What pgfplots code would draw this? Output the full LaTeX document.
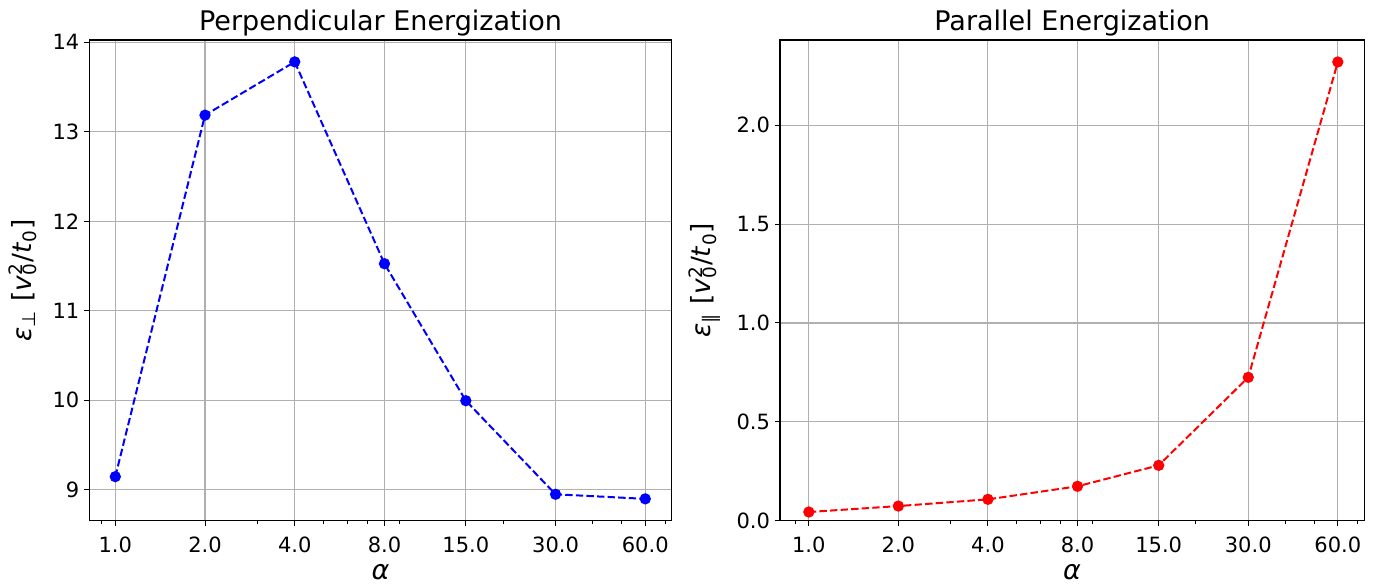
\documentclass[border=0pt]{standalone}
\usepackage{fontspec}
\setmainfont{DejaVu Sans}
\usepackage{pgfplots}
\pgfplotsset{compat=1.18}
\definecolor{gridgray}{HTML}{B0B0B0}
\begin{document}
\begin{tikzpicture}
\path[use as bounding box] (-44.65pt,-32.65pt) rectangle (646.35pt,260.35pt);
\begin{axis}[
  at={(0pt,0pt)}, anchor=south west,
  scale only axis,
  width=291.2pt, height=240.35pt,
  xmode=log,
  xmin=0.818, xmax=73.6,
  ymin=8.656, ymax=14.024,
  xtick={1,2,4,8,15,30,60},
  xticklabels={1.0,2.0,4.0,8.0,15.0,30.0,60.0},
  minor xtick={0.9,3,5,6,7,9,20,40,50,70},
  ytick={9,10,11,12,13,14},
  yticklabels={9,10,11,12,13,14},
  grid=major,
  major grid style={gridgray, line width=0.55pt},
  axis line style={black, line width=0.55pt},
  tick align=outside,
  major tick length=2.6pt,
  minor tick length=1.5pt,
  tick style={black, line width=0.5pt},
  xtick pos=bottom, ytick pos=left,
  ticklabel style={font=\fontsize{10.5}{12}\selectfont},
  xticklabel style={anchor=base, yshift=-13.5pt},
  yticklabel style={anchor=east, inner sep=0pt, xshift=-2.2pt},
  title style={font=\fontsize{13.5}{16}\selectfont, at={(0.5,1)}, anchor=base, yshift=-1pt},
  xlabel style={font=\fontsize{13.5}{16}\selectfont, at={(0.5,0)}, anchor=base, yshift=-29.5pt},
  ylabel style={font=\fontsize{13.2}{15}\selectfont, anchor=center, at={(axis description cs:-0.114,0.5)}},
  title={Perpendicular Energization},
  xlabel={\textit{α}},
  ylabel={\textit{ε}\textsubscript{⊥}\ [\textit{v}\makebox[0pt][l]{\textsuperscript{2}}\textsubscript{0}/\textit{t}\textsubscript{0}]},
]
\addplot[blue, line width=1pt, dash pattern=on 3.7pt off 1.6pt, mark=*, mark size=2.3pt, mark options={solid, fill=blue, draw=blue}] coordinates {
  (1,9.148) (2,13.185) (4,13.78) (8,11.526) (15,9.996) (30,8.951) (60,8.90)
};
\end{axis}
\begin{axis}[
  at={(345.35pt,0pt)}, anchor=south west,
  scale only axis,
  width=292.1pt, height=240.35pt,
  xmode=log,
  xmin=0.80, xmax=73.6,
  ymin=0, ymax=2.431,
  xtick={1,2,4,8,15,30,60},
  xticklabels={1.0,2.0,4.0,8.0,15.0,30.0,60.0},
  minor xtick={0.9,3,5,6,7,9,20,40,50,70},
  ytick={0,0.5,1,1.5,2},
  yticklabels={0.0,0.5,1.0,1.5,2.0},
  grid=major,
  major grid style={gridgray, line width=0.55pt},
  axis line style={black, line width=0.55pt},
  tick align=outside,
  major tick length=2.6pt,
  minor tick length=1.5pt,
  tick style={black, line width=0.5pt},
  xtick pos=bottom, ytick pos=left,
  ticklabel style={font=\fontsize{10.5}{12}\selectfont},
  xticklabel style={anchor=base, yshift=-13.5pt},
  yticklabel style={anchor=east, inner sep=0pt, xshift=-2.2pt},
  title style={font=\fontsize{13.5}{16}\selectfont, at={(0.5,1)}, anchor=base, yshift=-1pt},
  xlabel style={font=\fontsize{13.5}{16}\selectfont, at={(0.5,0)}, anchor=base, yshift=-29.5pt},
  ylabel style={font=\fontsize{13.2}{15}\selectfont, anchor=center, at={(axis description cs:-0.129,0.5)}},
  title={Parallel Energization},
  xlabel={\textit{α}},
  ylabel={\textit{ε}\textsubscript{∥}\ [\textit{v}\makebox[0pt][l]{\textsuperscript{2}}\textsubscript{0}/\textit{t}\textsubscript{0}]},
]
\addplot[red, line width=1pt, dash pattern=on 3.7pt off 1.6pt, mark=*, mark size=2.3pt, mark options={solid, fill=red, draw=red}] coordinates {
  (1,0.044) (2,0.074) (4,0.108) (8,0.174) (15,0.280) (30,0.725) (60,2.320)
};
\end{axis}
\end{tikzpicture}
\end{document}
